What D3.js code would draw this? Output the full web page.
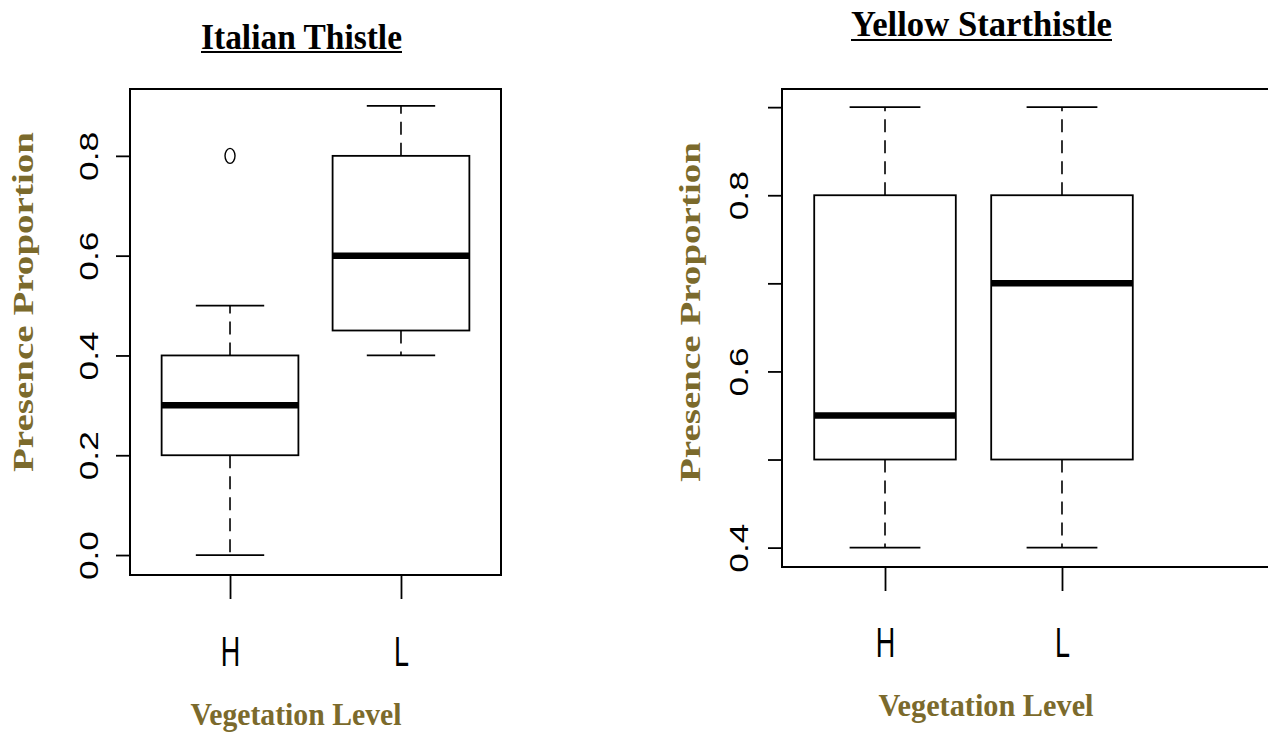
<!DOCTYPE html>
<html><head><meta charset="utf-8">
<script src="https://cdn.jsdelivr.net/npm/d3@7"></script>
<style>
html,body{margin:0;padding:0;background:#fff;}
svg{display:block;}
</style></head>
<body>
<svg id="chart" width="1268" height="733"></svg>
<script>
// ---- data ----
const categories = ["H", "L"];
// Italian Thistle: [min, q1, median, q3, max]
const italianStats = [
  [0.0, 0.2, 0.3, 0.4, 0.5],
  [0.4, 0.45, 0.6, 0.8, 0.9]
];
const italianOutliers = [{cat: "H", value: 0.8}];
// Yellow Starthistle
const yellowStats = [
  [0.4, 0.5, 0.55, 0.8, 0.9],
  [0.4, 0.5, 0.7, 0.8, 0.9]
];
const yellowOutliers = [];
const italianTicks = [0.0, 0.2, 0.4, 0.6, 0.8];
const italianTickLabels = ["0.0", "0.2", "0.4", "0.6", "0.8"];
const yellowTicks = [0.4, 0.5, 0.6, 0.7, 0.8, 0.9];
const yellowTickLabels = ["0.4", "", "0.6", "", "0.8", ""];
const titles = ["Italian Thistle", "Yellow Starthistle"];
const yTitle = "Presence Proportion";
const xTitle = "Vegetation Level";

const olive = "#7b6a2c";
const svg = d3.select("#chart");

const panels = [
  {
    stats: italianStats, outliers: italianOutliers, ticks: italianTicks, tickLabels: italianTickLabels,
    title: titles[0],
    x: d3.scaleLinear().domain([0.415, 2.585]).range([130, 501]),
    y: d3.scaleLinear().domain([-0.04, 0.934]).range([575, 89]),
    frame: {l: 130, r: 501, t: 89, b: 575},
    titleX: 301.5, titleY: 49, titleW: 201, underY: 52,
    yTitleX: 33, yTitleY: 302,
    yLabX: 98,
    xLabY: 666, xTickLen: 24,
    xTitleX: 296, xTitleY: 725, xTitleW: 211
  },
  {
    stats: yellowStats, outliers: yellowOutliers, ticks: yellowTicks, tickLabels: yellowTickLabels,
    title: titles[1],
    x: d3.scaleLinear().domain([0.418, 2.582]).range([782, 1165]),
    y: d3.scaleLinear().domain([0.378, 0.9206]).range([567, 89]),
    frame: {l: 782, r: 1275, t: 89, b: 567},
    titleX: 981.5, titleY: 36, titleW: 261, underY: 40,
    yTitleX: 700, yTitleY: 312,
    yLabX: 748,
    xLabY: 657, xTickLen: 24,
    xTitleX: 986, xTitleY: 716, xTitleW: 215
  }
];

panels.forEach(p => {
  const g = svg.append("g");
  const x = p.x, y = p.y;
  const catPos = c => categories.indexOf(c) + 1;

  // boxes
  p.stats.forEach((s, i) => {
    const cx = x(i + 1);
    const bx0 = x(i + 1 - 0.4), bx1 = x(i + 1 + 0.4);
    const cx0 = x(i + 1 - 0.2), cx1 = x(i + 1 + 0.2);
    const [mn, q1, md, q3, mx] = s;
    // whiskers (dashed)
    g.append("line").attr("x1", cx).attr("x2", cx).attr("y1", y(q3)).attr("y2", y(mx))
      .attr("stroke", "#000").attr("stroke-width", 1.6).attr("stroke-dasharray", "13,8");
    g.append("line").attr("x1", cx).attr("x2", cx).attr("y1", y(q1)).attr("y2", y(mn))
      .attr("stroke", "#000").attr("stroke-width", 1.6).attr("stroke-dasharray", "13,8");
    // caps
    [mn, mx].forEach(v => g.append("line").attr("x1", cx0).attr("x2", cx1).attr("y1", y(v)).attr("y2", y(v))
      .attr("stroke", "#000").attr("stroke-width", 1.8));
    // box
    g.append("rect").attr("x", bx0).attr("y", y(q3)).attr("width", bx1 - bx0).attr("height", y(q1) - y(q3))
      .attr("fill", "#fff").attr("stroke", "#000").attr("stroke-width", 1.8);
    // median
    g.append("line").attr("x1", bx0).attr("x2", bx1).attr("y1", y(md)).attr("y2", y(md))
      .attr("stroke", "#000").attr("stroke-width", 6.5);
  });

  // outliers
  p.outliers.forEach(o => {
    g.append("ellipse").attr("cx", x(catPos(o.cat))).attr("cy", y(o.value))
      .attr("rx", 5).attr("ry", 7.5).attr("fill", "none").attr("stroke", "#000").attr("stroke-width", 1.4);
  });

  // frame
  g.append("rect").attr("x", p.frame.l).attr("y", p.frame.t)
    .attr("width", p.frame.r - p.frame.l).attr("height", p.frame.b - p.frame.t)
    .attr("fill", "none").attr("stroke", "#000").attr("stroke-width", 2);

  // y axis
  const yAxis = d3.axisLeft(y).tickValues(p.ticks).tickSize(14).tickPadding(0)
    .tickFormat((d, i) => p.tickLabels[i]);
  const ya = g.append("g").attr("transform", `translate(${p.frame.l},0)`).call(yAxis);
  ya.select(".domain").remove();
  ya.selectAll(".tick line").attr("stroke", "#000").attr("stroke-width", 1.8);
  ya.selectAll(".tick text").each(function() {
    const t = d3.select(this);
    t.attr("x", null).attr("dy", null).attr("y", null)
      .attr("text-anchor", "middle")
      .attr("transform", `translate(${p.yLabX - p.frame.l},0) rotate(-90) scale(1.36,1)`)
      .attr("font-family", "Liberation Sans, Arial, sans-serif")
      .attr("font-size", 26).attr("fill", "#000");
  });

  // x axis
  const xAxis = d3.axisBottom(x).tickValues([1, 2]).tickSize(p.xTickLen).tickFormat((d) => categories[d - 1]);
  const xa = g.append("g").attr("transform", `translate(0,${p.frame.b})`).call(xAxis);
  xa.select(".domain").remove();
  xa.selectAll(".tick line").attr("stroke", "#000").attr("stroke-width", 1.8);
  xa.selectAll(".tick text").each(function() {
    const t = d3.select(this);
    t.attr("y", null).attr("dy", null)
      .attr("text-anchor", "middle")
      .attr("transform", `translate(0,${p.xLabY - p.frame.b}) scale(1,1.55)`)
      .attr("font-family", "Liberation Sans, Arial, sans-serif")
      .attr("font-size", 27).attr("fill", "#000");
  });

  // title
  g.append("text").attr("x", p.titleX).attr("y", p.titleY)
    .attr("text-anchor", "middle")
    .attr("font-family", "Liberation Serif, serif").attr("font-weight", "bold")
    .attr("font-size", 36).attr("textLength", p.titleW).attr("lengthAdjust", "spacingAndGlyphs")
    .attr("fill", "#000").text(p.title);
  g.append("line").attr("x1", p.titleX - p.titleW / 2).attr("x2", p.titleX + p.titleW / 2)
    .attr("y1", p.underY).attr("y2", p.underY).attr("stroke", "#000").attr("stroke-width", 2.2);

  // y title
  g.append("text").attr("transform", `translate(${p.yTitleX},${p.yTitleY}) rotate(-90)`)
    .attr("text-anchor", "middle")
    .attr("font-family", "Liberation Serif, serif").attr("font-weight", "bold")
    .attr("font-size", 30).attr("textLength", 340).attr("lengthAdjust", "spacingAndGlyphs")
    .attr("fill", olive).text(yTitle);

  // x title
  g.append("text").attr("x", p.xTitleX).attr("y", p.xTitleY)
    .attr("text-anchor", "middle")
    .attr("font-family", "Liberation Serif, serif").attr("font-weight", "bold")
    .attr("font-size", 32).attr("textLength", p.xTitleW).attr("lengthAdjust", "spacingAndGlyphs")
    .attr("fill", olive).text(xTitle);
});
</script>
</body></html>
